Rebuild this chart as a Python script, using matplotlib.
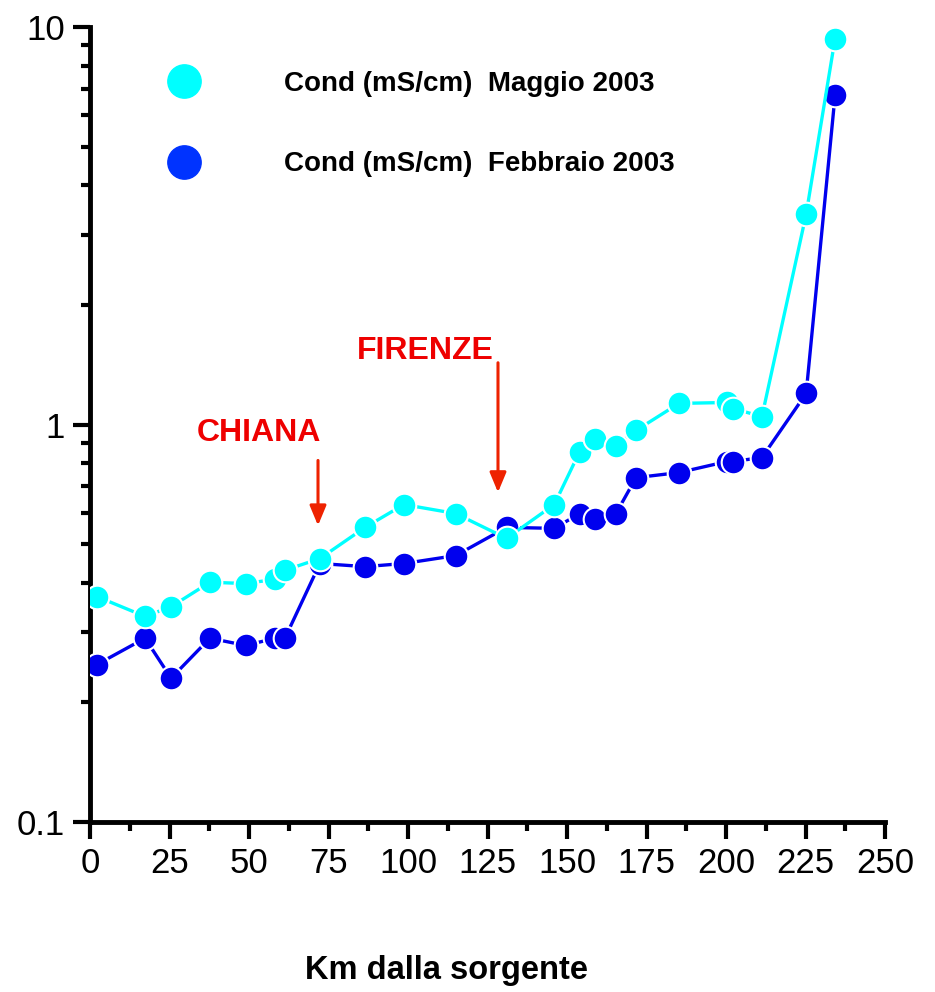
import matplotlib
matplotlib.use('Agg')
import matplotlib.pyplot as plt
from matplotlib.lines import Line2D
from matplotlib.ticker import MultipleLocator, LogLocator, NullFormatter, FixedLocator, FixedFormatter

# km dalla sorgente (stessi punti per le due campagne)
km = [2.2, 17.3, 25.5, 37.7, 49.0, 58.2, 61.3, 72.3, 86.5, 98.7, 115.0, 131.0,
      146.0, 154.0, 158.8, 165.4, 171.7, 185.2, 200.3, 202.2, 211.3, 225.2, 234.3]

cond_maggio = [0.369, 0.329, 0.348, 0.401, 0.398, 0.408, 0.430, 0.460, 0.551, 0.629,
               0.597, 0.517, 0.629, 0.855, 0.917, 0.885, 0.966, 1.13, 1.136, 1.097,
               1.047, 3.38, 9.35]

cond_febbraio = [0.249, 0.290, 0.230, 0.290, 0.278, 0.290, 0.290, 0.447, 0.439, 0.447,
                 0.468, 0.551, 0.548, 0.597, 0.577, 0.597, 0.735, 0.757, 0.807, 0.807,
                 0.826, 1.197, 6.73]

labels = ['Cond (mS/cm)  Maggio 2003', 'Cond (mS/cm)  Febbraio 2003']

# annotazioni: (testo, x testo, y testo, x freccia, y inizio, y fine)
note_chiana = ('CHIANA', 53.1, 0.95, 71.7, 0.812, 0.557)
note_firenze = ('FIRENZE', 105.3, 1.53, 128.3, 1.43, 0.675)

cyan = '#00FFFF'
blue = '#0000EE'
red = '#EE0000'
arrow_red = '#EE2200'

fig = plt.figure(figsize=(9.35, 9.92), dpi=100)
ax = fig.add_axes([90/935, 1 - 822/992, 795/935, 795/992])

ax.plot(km, cond_febbraio, '-o', color=blue, lw=2.4, ms=17,
        mfc=blue, mec='white', mew=1.5, zorder=3)
ax.plot(km, cond_maggio, '-o', color=cyan, lw=2.4, ms=17,
        mfc=cyan, mec='white', mew=1.5, zorder=4)

ax.set_yscale('log')
ax.set_xlim(0, 250)
ax.set_ylim(0.1, 10)

for s in ['top', 'right']:
    ax.spines[s].set_visible(False)
for s in ['left', 'bottom']:
    ax.spines[s].set_linewidth(3.5)

tick_font = {'family': ['Liberation Sans Narrow', 'Liberation Sans', 'DejaVu Sans'], 'size': 25}

ax.xaxis.set_major_locator(MultipleLocator(25))
ax.xaxis.set_minor_locator(MultipleLocator(12.5))
ax.yaxis.set_major_locator(FixedLocator([0.1, 1, 10]))
ax.yaxis.set_major_formatter(FixedFormatter(['0.1', '1', '10']))
ax.yaxis.set_minor_locator(LogLocator(base=10, subs=range(2, 10)))
ax.yaxis.set_minor_formatter(NullFormatter())

ax.tick_params(which='major', direction='out', length=12, width=3, pad=6)
ax.tick_params(which='minor', direction='out', length=6.5, width=3)
for lab in ax.get_xticklabels() + ax.get_yticklabels():
    lab.set_fontfamily(tick_font['family'])
    lab.set_fontsize(tick_font['size'])

ax.set_xlabel('Km dalla sorgente', fontsize=23.5, fontweight='bold',
              family='Liberation Sans')
ax.xaxis.set_label_coords(0.449, -0.187)
ax.xaxis.label.set_va('center')

for txt, tx, ty, axx, y0, y1 in [note_chiana, note_firenze]:
    ax.text(tx, ty, txt, color=red, fontsize=23, fontweight='bold',
            family='Liberation Sans', ha='center', va='center')
    ax.annotate('', xy=(axx, y1), xytext=(axx, y0),
                arrowprops=dict(arrowstyle='-|>,head_length=1.2,head_width=0.5',
                                color=arrow_red, lw=2.2, shrinkA=0, shrinkB=0))

handles = [Line2D([], [], ls='', marker='o', ms=24, mfc=cyan, mec=cyan),
           Line2D([], [], ls='', marker='o', ms=24, mfc='#0033FF', mec='#0033FF')]
ax.legend(handles, labels, loc='upper left', bbox_to_anchor=(0.083, 0.945),
          frameon=False, handlelength=2, handletextpad=2.6, labelspacing=1.97,
          borderpad=0, borderaxespad=0,
          prop={'family': 'Liberation Sans', 'weight': 'bold', 'size': 20})

fig.savefig('out.png', dpi=100, facecolor='white')
